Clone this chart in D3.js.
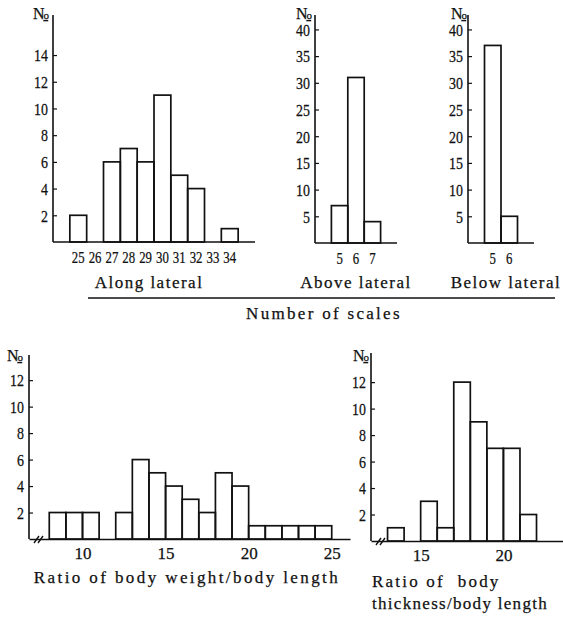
<!DOCTYPE html>
<html>
<head>
<meta charset="utf-8">
<script src="https://cdn.jsdelivr.net/npm/d3@7"></script>
<style>
  body { margin: 0; background: #fff; }
  svg { display: block; }
  text { font-family: 'Liberation Serif', 'DejaVu Serif', serif; fill: #111; stroke: #111; stroke-width: 0.25px; }
</style>
</head>
<body>
<svg width="563" height="618"></svg>
<script>
  // scale counts (top row)
  const alongCats = [25, 26, 27, 28, 29, 30, 31, 32, 33, 34];
  const alongCounts = [2, 0, 6, 7, 6, 11, 5, 4, 0, 1];
  const alongTicks = [2, 4, 6, 8, 10, 12, 14];

  const aboveCats = [5, 6, 7];
  const aboveCounts = [7, 31, 4];
  const belowCats = [5, 6];
  const belowCounts = [37, 5];
  const scaleTicks = [5, 10, 15, 20, 25, 30, 35, 40];

  // ratios (bottom row), bins start at lower edge, width 1
  const weightBins = [8, 9, 10, 11, 12, 13, 14, 15, 16, 17, 18, 19, 20, 21, 22, 23, 24];
  const weightCounts = [2, 2, 2, 0, 2, 6, 5, 4, 3, 2, 5, 4, 1, 1, 1, 1, 1];
  const weightTicks = [10, 15, 20, 25];

  const thickBins = [13, 14, 15, 16, 17, 18, 19, 20, 21];
  const thickCounts = [1, 0, 3, 1, 12, 9, 7, 7, 2];
  const thickTicks = [15, 20];

  const ratioYTicks = [2, 4, 6, 8, 10, 12];

  const serif = "'Liberation Serif', 'DejaVu Serif', serif";
  const svg = d3.select('svg');

  const noLabel = (x, y) => {
    const t = svg.append('text')
      .attr('x', x).attr('y', y)
      .attr('font-family', serif)
      .attr('font-size', 16)
      .attr('letter-spacing', -1);
    t.append('tspan').text('N');
    t.append('tspan').attr('font-size', 11).attr('text-decoration', 'underline').text('o');
  };

  // narrow digits like the original typeface
  const squeeze = 0.82;

  const yAxisDraw = (yScale, x, ticks, top, base) => {
    const g = svg.append('g').attr('transform', `translate(${x},0)`);
    g.call(d3.axisLeft(yScale).tickValues(ticks).tickSize(-4).tickPadding(5).tickSizeOuter(0));
    g.attr('font-family', serif);
    g.select('.domain').remove();
    g.append('line').attr('y1', top).attr('y2', base)
      .attr('stroke', '#111').attr('stroke-width', 1.6);
    g.selectAll('.tick text')
      .attr('font-size', 17)
      .attr('x', -5 / squeeze)
      .attr('transform', `scale(${squeeze},1)`)
      .attr('dy', '0.34em')
      .attr('fill', '#111');
    g.selectAll('.tick line').attr('stroke', '#111').attr('stroke-width', 1.2);
  };

  // top-row histogram with categorical bands
  const bandChart = (props) => {
    const { cats, counts, ticks, x0, x1, base, top, yMax } = props;
    const xScale = d3.scaleBand().domain(cats).range([x0, x1]).paddingOuter(1).paddingInner(0);
    const yScale = d3.scaleLinear().domain([0, yMax]).range([base, top]);

    svg.append('g').selectAll('rect').data(cats).enter().append('rect')
      .attr('x', d => xScale(d))
      .attr('width', xScale.bandwidth())
      .attr('y', (d, i) => yScale(counts[i]))
      .attr('height', (d, i) => base - yScale(counts[i]))
      .attr('fill', 'none')
      .attr('stroke', '#111')
      .attr('stroke-width', 1.7)
      .style('display', (d, i) => counts[i] > 0 ? null : 'none');

    const xg = svg.append('g').attr('transform', `translate(0,${base})`);
    xg.call(d3.axisBottom(xScale).tickSize(0).tickPadding(9).tickSizeOuter(0));
    xg.attr('font-family', serif);
    xg.select('.domain').attr('stroke', '#111').attr('stroke-width', 1.6).attr('d', `M${x0},0H${x1}`);
    xg.selectAll('.tick text')
      .attr('font-size', 17)
      .attr('fill', '#111')
      .attr('transform', `scale(${squeeze * 0.92},1)`);

    yAxisDraw(yScale, x0, ticks, top, base);
  };

  // bottom-row histogram with numeric bins
  const binChart = (props) => {
    const { bins, counts, ticks, domain, x0, x1, base, top, yMax } = props;
    const xScale = d3.scaleLinear().domain(domain).range([x0, x1]);
    const yScale = d3.scaleLinear().domain([0, yMax]).range([base, top]);

    svg.append('g').selectAll('rect').data(bins).enter().append('rect')
      .attr('x', d => xScale(d))
      .attr('width', d => xScale(d + 1) - xScale(d))
      .attr('y', (d, i) => yScale(counts[i]))
      .attr('height', (d, i) => base - yScale(counts[i]))
      .attr('fill', 'none')
      .attr('stroke', '#111')
      .attr('stroke-width', 1.7)
      .style('display', (d, i) => counts[i] > 0 ? null : 'none');

    const xg = svg.append('g').attr('transform', `translate(0,${base})`);
    xg.call(d3.axisBottom(xScale).tickValues(ticks).tickSize(0).tickPadding(8).tickSizeOuter(0));
    xg.attr('font-family', serif);
    xg.select('.domain').attr('stroke', '#111').attr('stroke-width', 1.6);
    xg.selectAll('.tick text')
      .attr('font-size', 17)
      .attr('fill', '#111');

    // axis break
    [0, 4].forEach(dx => {
      svg.append('line')
        .attr('x1', x0 + 5 + dx).attr('y1', base + 4)
        .attr('x2', x0 + 10 + dx).attr('y2', base - 3)
        .attr('stroke', '#111').attr('stroke-width', 1.4);
    });

    yAxisDraw(yScale, x0, ratioYTicks, top, base);
  };

  bandChart({ cats: alongCats, counts: alongCounts, ticks: alongTicks,
    x0: 53, x1: 255, base: 242, top: 15, yMax: 17 });
  bandChart({ cats: aboveCats, counts: aboveCounts, ticks: scaleTicks,
    x0: 315, x1: 397, base: 243, top: 15, yMax: 42.7 });
  bandChart({ cats: belowCats, counts: belowCounts, ticks: scaleTicks,
    x0: 468, x1: 534, base: 243, top: 15, yMax: 42.7 });

  binChart({ bins: weightBins, counts: weightCounts, ticks: weightTicks,
    domain: [6.78, 26.1], x0: 29, x1: 350, base: 539, top: 355, yMax: 13.9 });
  binChart({ bins: thickBins, counts: thickCounts, ticks: thickTicks,
    domain: [12, 23.6], x0: 371, x1: 563, base: 541, top: 353, yMax: 14.2 });

  noLabel(33, 19);
  noLabel(296, 19);
  noLabel(451, 19);
  noLabel(7, 361);
  noLabel(353, 361);

  // titles
  const title = (x, y, s, anchor) => svg.append('text')
    .attr('x', x).attr('y', y)
    .attr('text-anchor', anchor || 'middle')
    .attr('font-family', serif)
    .attr('font-size', 17)
    .attr('letter-spacing', 1.5)
    .text(s);

  title(149, 288, 'Along lateral');
  title(356, 288, 'Above lateral');
  title(506, 288, 'Below lateral');
  svg.append('line').attr('x1', 88).attr('x2', 555).attr('y1', 298).attr('y2', 298)
    .attr('stroke', '#111').attr('stroke-width', 1.3);
  title(324, 319, 'Number of scales').attr('letter-spacing', 2.3);
  title(187, 583, 'Ratio of body weight/body length').attr('letter-spacing', 2.4);
  title(372, 587, 'Ratio of  body', 'start').attr('xml:space', 'preserve').attr('letter-spacing', 2.2);
  title(372, 609, 'thickness/body length', 'start').attr('letter-spacing', 1.3);
</script>
</body>
</html>
